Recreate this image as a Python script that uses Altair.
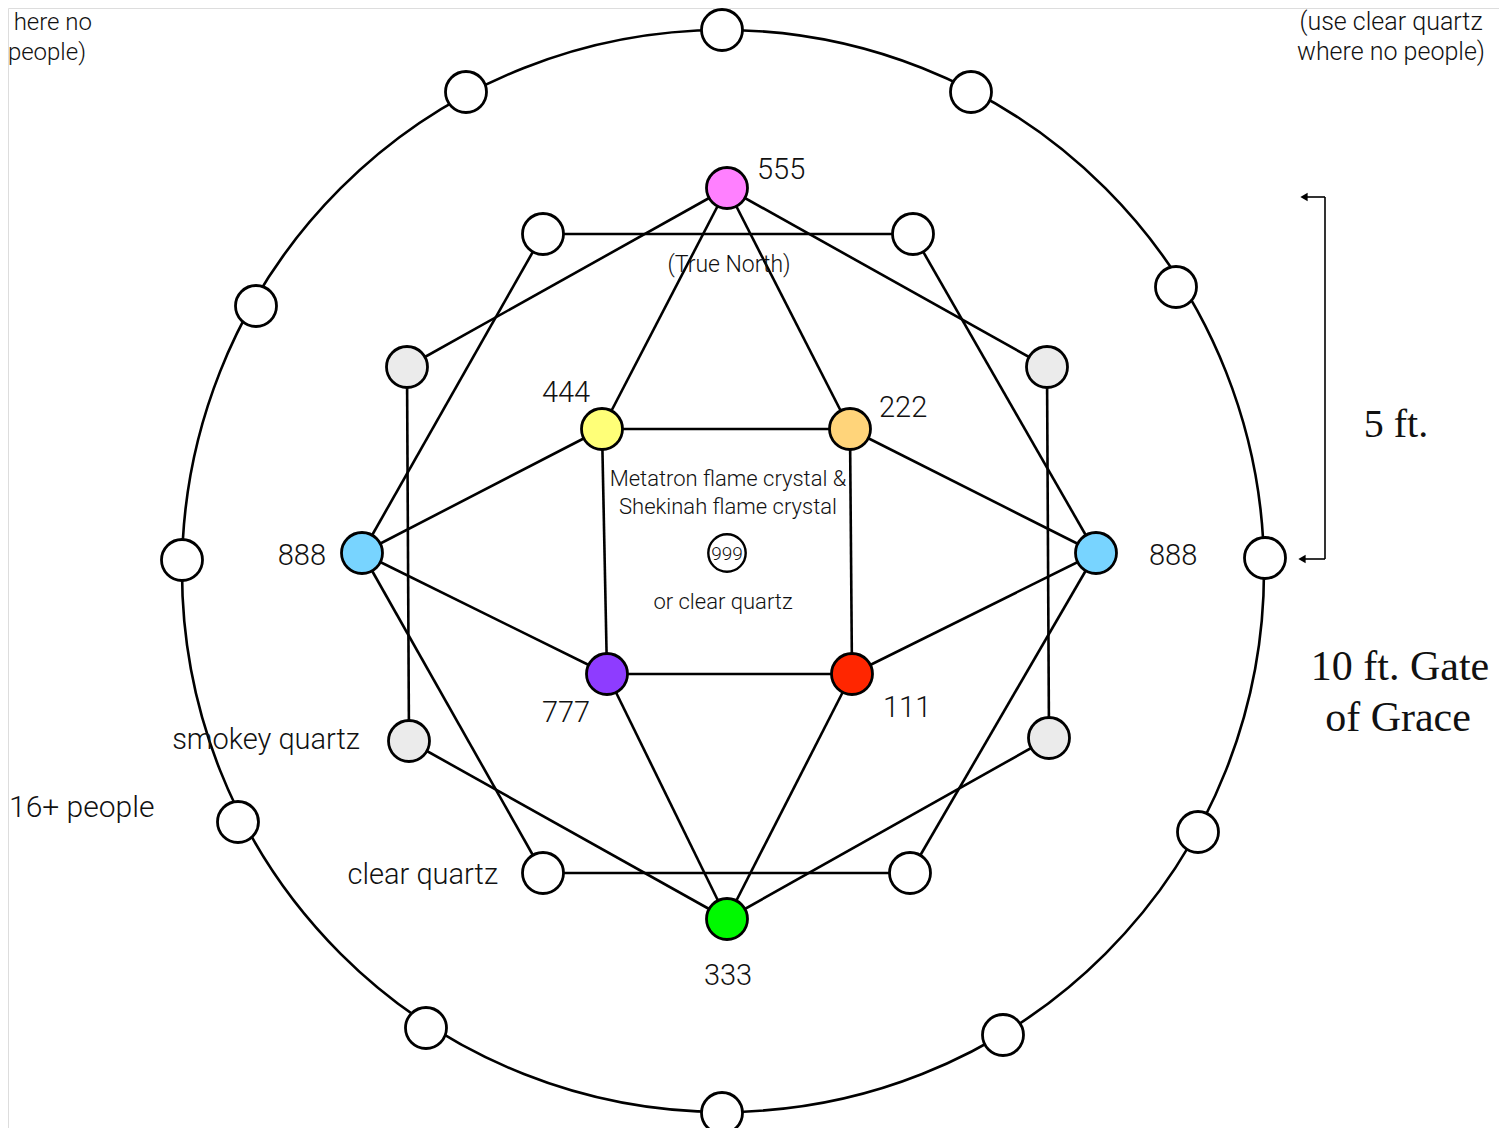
import altair as alt
import pandas as pd

# ---------------- data ----------------
node_names = ["555", "222", "888R", "111", "333", "777", "888L", "444",
              "g_ne", "g_se", "g_sw", "g_nw",
              "h_nw", "h_ne", "h_se", "h_sw"]
node_x = [727, 850, 1096, 852, 727, 607, 362, 602,
          1047, 1049, 409, 407,
          543, 913, 910, 543]
node_y = [188, 429, 553, 674, 919, 674, 553, 429,
          367, 738, 741, 367,
          234, 234, 873, 873]
node_fill = ["#FF80FF", "#FFD47A", "#78D4FF", "#FF2600", "#00F900", "#8E3CFF", "#78D4FF", "#FFFF78",
             "#EBEBEB", "#EBEBEB", "#EBEBEB", "#EBEBEB",
             "#FFFFFF", "#FFFFFF", "#FFFFFF", "#FFFFFF"]

edges = [("h_nw", "h_ne"), ("h_ne", "888R"), ("888R", "h_se"), ("h_se", "h_sw"), ("h_sw", "888L"), ("888L", "h_nw"),
         ("555", "g_ne"), ("g_ne", "g_se"), ("g_se", "333"), ("333", "g_sw"), ("g_sw", "g_nw"), ("g_nw", "555"),
         ("555", "444"), ("555", "222"), ("444", "222"), ("444", "888L"), ("222", "888R"),
         ("444", "777"), ("222", "111"), ("777", "111"), ("777", "888L"), ("111", "888R"),
         ("777", "333"), ("111", "333")]

outer_x = [722, 971, 1176, 1265, 1198, 1003, 722, 426, 238, 182, 256, 466]
outer_y = [30, 92, 287, 558, 832, 1035, 1113, 1028, 822, 560, 306, 92]

ring_center = (723, 571)
center_node = (727, 553)

# labels: text, x, y(baseline), align, size
labels_sans = [
    ("555", 757, 179, "left", 29),
    ("444", 566, 402, "center", 29),
    ("222", 879, 417, "left", 29),
    ("888", 326, 565, "right", 29),
    ("888", 1149, 565, "left", 29),
    ("777", 566, 722, "center", 29),
    ("111", 883, 717, "left", 29),
    ("333", 728, 985, "center", 29),
    ("smokey quartz", 360, 749, "right", 29),
    ("clear quartz", 498, 884, "right", 29),
    ("16+ people", 9, 817, "left", 30),
    ("here no", 92, 30, "right", 24),
    ("people)", 86, 60, "right", 24),
    ("(use clear quartz", 1391, 30, "center", 25),
    ("where no people)", 1391, 60, "center", 25),
    ("(True North)", 729, 272, "center", 23),
    ("Metatron flame crystal &", 728, 486, "center", 22),
    ("Shekinah flame crystal", 728, 514, "center", 22),
    ("or clear quartz", 723, 609, "center", 22),
]
labels_serif = [
    ("5 ft.", 1396, 437, "center", 40),
    ("10 ft. Gate", 1400, 680, "center", 42),
    ("of Grace", 1398, 731, "center", 42),
]

bracket_x = [1325, 1304, 1304]
bracket_y = [197, 197, 559]
bracket_x2 = [1325, 1325, 1325]
bracket_y2 = [559, 197, 559]
arrow_x = [1304, 1302]
arrow_y = [197, 559]

# ---------------- chart ----------------
W, H = 1491, 1120
xs = alt.Scale(domain=[8, 8 + W], nice=False, zero=False)
ys = alt.Scale(domain=[8, 8 + H], nice=False, zero=False, reverse=True)


def X(f="x"):
    return alt.X(f"{f}:Q", scale=xs, axis=None)


def Y(f="y"):
    return alt.Y(f"{f}:Q", scale=ys, axis=None)


pos = dict(zip(node_names, zip(node_x, node_y)))
edge_df = pd.DataFrame([
    {"x": pos[a][0], "y": pos[a][1], "x2": pos[b][0], "y2": pos[b][1]} for a, b in edges
])
node_df = pd.DataFrame({"name": node_names, "x": node_x, "y": node_y, "fill": node_fill})
outer_df = pd.DataFrame({"x": outer_x, "y": outer_y})

ring = alt.Chart(pd.DataFrame({"x": [ring_center[0]], "y": [ring_center[1]]})).mark_point(
    shape="circle", filled=False, size=1082 ** 2, stroke="black", strokeWidth=2.6, opacity=1
).encode(x=X(), y=Y())

edge_layer = alt.Chart(edge_df).mark_rule(color="black", strokeWidth=2.6).encode(
    x=X(), y=Y(), x2="x2:Q", y2="y2:Q"
)

outer_nodes = alt.Chart(outer_df).mark_point(
    shape="circle", filled=True, size=1681, fill="white", stroke="black", strokeWidth=2.8, opacity=1
).encode(x=X(), y=Y())

inner_nodes = alt.Chart(node_df).mark_point(
    shape="circle", filled=True, size=1681, stroke="black", strokeWidth=2.8, opacity=1
).encode(x=X(), y=Y(), fill=alt.Fill("fill:N", scale=None))

center_circle = alt.Chart(pd.DataFrame({"x": [center_node[0]], "y": [center_node[1]]})).mark_point(
    shape="circle", filled=True, size=1400, fill="white", stroke="black", strokeWidth=2.4, opacity=1
).encode(x=X(), y=Y())

center_text = alt.Chart(pd.DataFrame({"x": [center_node[0]], "y": [center_node[1]], "t": ["999"]})).mark_text(
    font="Roboto", fontWeight=300, fontSize=19, align="center", baseline="middle", color="#111", dy=1
).encode(x=X(), y=Y(), text="t:N")

bracket = alt.Chart(pd.DataFrame({"x": bracket_x, "y": bracket_y, "x2": bracket_x2, "y2": bracket_y2})).mark_rule(
    color="black", strokeWidth=1.6
).encode(x=X(), y=Y(), x2="x2:Q", y2="y2:Q")

arrows = alt.Chart(pd.DataFrame({"x": arrow_x, "y": arrow_y})).mark_point(
    shape="triangle-left", filled=True, size=70, color="black", opacity=1
).encode(x=X(), y=Y())


def text_layers(rows, family, weight):
    layers = []
    groups = {}
    for t, x, y, a, s in rows:
        groups.setdefault((a, s), []).append({"t": t, "x": x, "y": y})
    for (a, s), recs in groups.items():
        layers.append(
            alt.Chart(pd.DataFrame(recs)).mark_text(
                font=family, fontWeight=weight, fontSize=s, align=a, baseline="alphabetic", color="#111"
            ).encode(x=X(), y=Y(), text="t:N")
        )
    return layers


texts = text_layers(labels_sans, "Roboto", 300) + text_layers(labels_serif, "Liberation Serif", 400)

chart = alt.layer(
    ring, edge_layer, outer_nodes, inner_nodes, center_circle, center_text, bracket, arrows, *texts
).properties(
    width=W, height=H, autosize=alt.AutoSizeParams(type="none"), padding=0
).configure_view(strokeWidth=0, stroke="transparent").configure(background="white")

chart.save("out.html", embed_options={"renderer": "svg", "actions": False})
